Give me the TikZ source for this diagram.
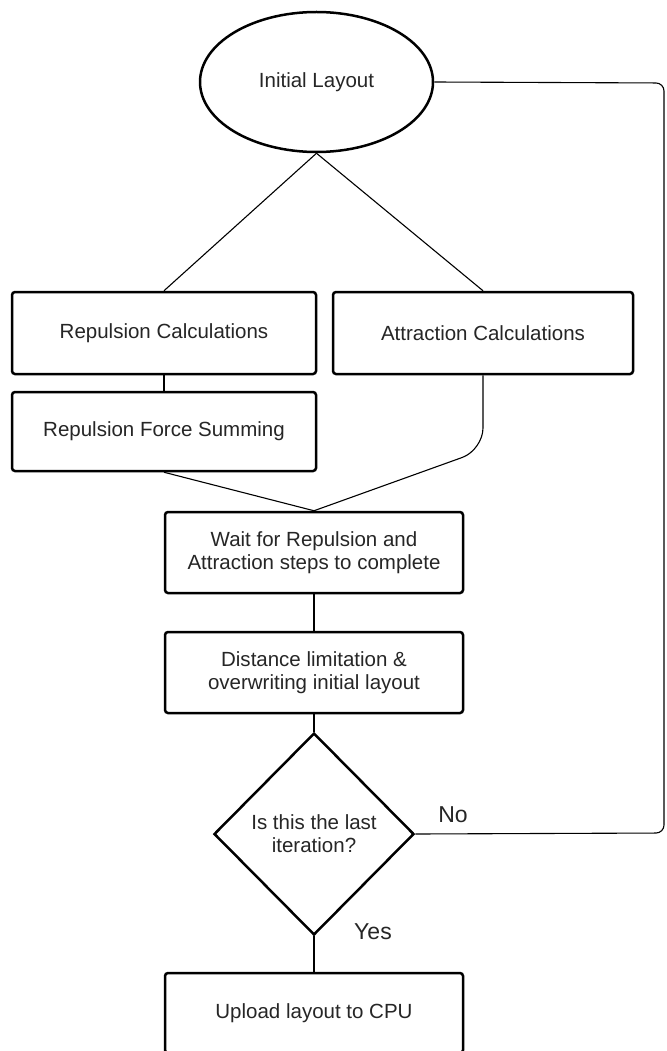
\documentclass[tikz,border=0pt]{standalone}
\usepackage{fontspec}
\setmainfont{Liberation Sans}
\usetikzlibrary{shapes.geometric}
\begin{document}
\begin{tikzpicture}[x=1pt,y=-1pt,
  txt/.style={font=\fontsize{20.5}{23}\selectfont, text=black!85, align=center},
  procbox/.style={txt, draw, line width=2.5pt, rounded corners=3pt, minimum height=80pt, inner sep=0pt},
  wide/.style={procbox, minimum width=304pt},
  mid/.style={procbox, minimum width=298pt},
  conn/.style={draw, line width=1.1pt},
  lbl/.style={font=\fontsize{23}{26}\selectfont, text=black!85}
]
\useasboundingbox (0,0) rectangle (666,1051);
\clip (0,0) rectangle (666,1051);
\fill[white] (0,0) rectangle (666,1051);

\node[txt, ellipse, draw, line width=2.5pt, minimum width=233pt, minimum height=140pt, inner sep=0pt] (init) at (316.5,82) {Initial Layout};
\node[wide, minimum height=82pt] (rc) at (164,333) {Repulsion Calculations};
\node[procbox, minimum width=300pt, minimum height=82pt] (ac) at (483,333) {Attraction Calculations};
\node[wide, minimum height=79pt] (rfs) at (164,431.5) {Repulsion Force Summing};
\node[mid, minimum height=81pt] (wait) at (314,552.5) {Wait for Repulsion and\\Attraction steps to complete};
\node[mid, minimum height=81pt] (dist) at (314,672.5) {Distance limitation \&\\overwriting initial layout};
\node[txt, diamond, draw, line width=2.5pt, minimum width=200pt, minimum height=202pt, inner sep=0pt] (dec) at (314,834) {Is this the last\\iteration?};
\node[mid, minimum height=80pt] (up) at (314,1013) {Upload layout to CPU};

\node[lbl] (no) at (453,815) {No};
\node[lbl] (yes) at (373,932) {Yes};

\coordinate (abend) at (483,450);
\coordinate (rtop) at (664,83);
\coordinate (rbot) at (664,833);

\draw[conn] (init.south) -- (rc.north);
\draw[conn] (init.south) -- (ac.north);
\draw[conn] (rc.south) -- (rfs.north);
\draw[conn] (rfs.south) -- (wait.north);
\draw[conn, rounded corners=22pt] (ac.south) -- (abend) -- (wait.north);
\draw[conn] (wait.south) -- (dist.north);
\draw[conn] (dist.south) -- (dec.north);
\draw[conn] (dec.south) -- (up.north);
\draw[conn, rounded corners=8pt] (dec.east) -- (rbot) -- (rtop) -- (init.east);
\end{tikzpicture}
\end{document}
